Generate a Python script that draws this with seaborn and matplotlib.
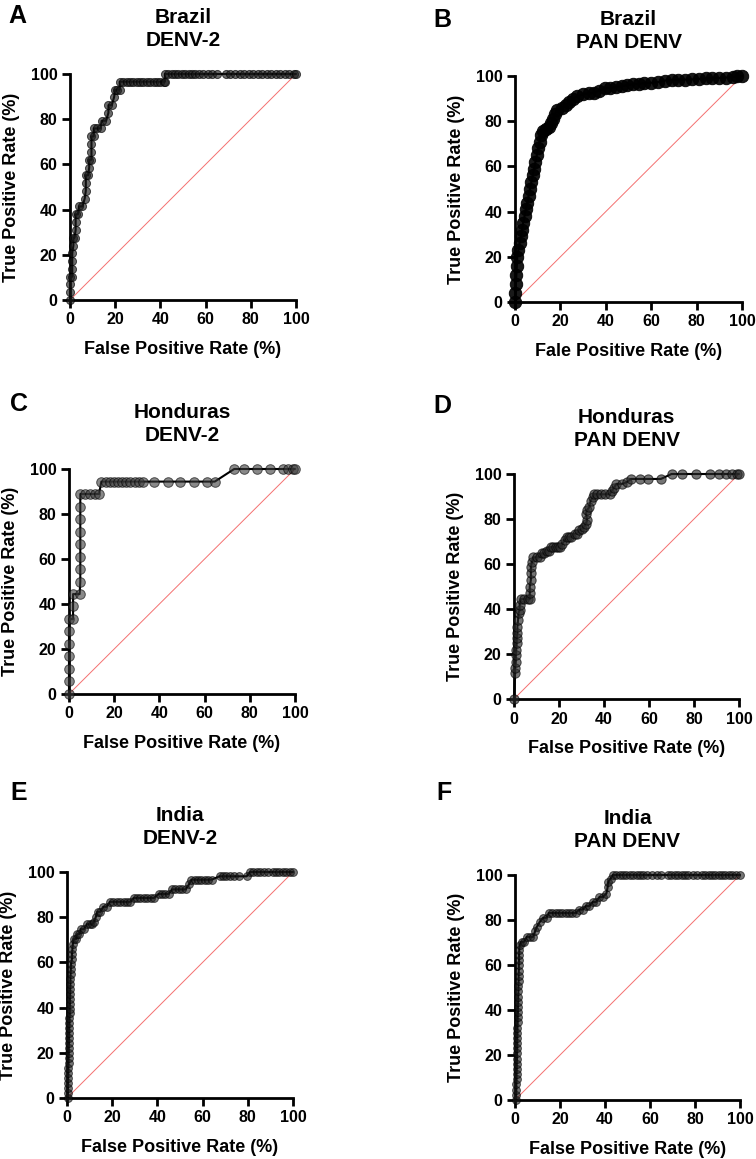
import matplotlib
matplotlib.use("Agg")
import matplotlib.pyplot as plt
import seaborn as sns
import pandas as pd

sns.set_theme(style="ticks")
plt.rcParams["font.family"] = ["Liberation Sans", "DejaVu Sans"]
plt.rcParams["font.weight"] = "bold"
plt.rcParams["text.color"] = "black"
plt.rcParams["axes.labelcolor"] = "black"

# ROC points: (false positive rate %, true positive rate %)
brazil_denv2 = [(0, 0), (0, 3.4), (0, 6.9), (0, 10.3), (1, 10.3), (1, 13.8), (1, 17.2), (1, 20.7),
                (1.5, 24.1), (1.5, 27.6), (2, 27.6), (2.5, 31), (2.5, 34.5), (2.5, 37.9), (3.5, 37.9),
                (4, 41.4), (5.5, 41.4), (6.5, 44.8), (7, 48.3), (7, 51.7), (7, 55.2), (8, 55.2),
                (8.5, 58.6), (8.5, 62.1), (9.5, 62.1), (9.5, 65.5), (9.5, 69), (9.5, 72.4), (10.5, 72.4),
                (10.5, 75.9), (12, 75.9), (13.5, 75.9), (14, 79.3), (16, 79.3), (17, 82.8), (17, 86.2),
                (18.5, 86.2), (19.5, 89.7), (20, 93.1), (21, 93.1), (22, 93.1), (22, 96.6), (23.5, 96.6),
                (25, 96.6), (26.5, 96.6), (28, 96.6), (29.5, 96.6), (31, 96.6), (32.5, 96.6), (34, 96.6),
                (35.5, 96.6), (37, 96.6), (38.5, 96.6), (40, 96.6), (41.5, 96.6), (42, 96.6), (42, 100),
                (43.5, 100), (45, 100), (46.5, 100), (48, 100), (49.5, 100), (51, 100), (52.5, 100),
                (54, 100), (55.5, 100), (57, 100), (59, 100), (61, 100), (63, 100), (65, 100), (69, 100),
                (71, 100), (73, 100), (75, 100), (77, 100), (79, 100), (81, 100), (83, 100), (85, 100),
                (87, 100), (89, 100), (91, 100), (93, 100), (95, 100), (97, 100), (99, 100), (100, 100)]

brazil_pan = [(0, 0), (0.2, 4), (0.4, 8), (0.6, 12), (0.8, 16), (1, 20), (1.5, 23), (2, 26), (2.6, 29),
              (3.1, 32), (3.6, 35), (4.2, 38), (4.8, 41), (5.4, 44), (6, 47), (6.6, 50), (7.2, 53),
              (7.8, 56), (8.4, 59), (9, 62), (9.6, 65), (10.2, 68), (10.8, 71), (11.5, 74), (12.4, 75.5),
              (13.5, 76.5), (15, 77.5), (16, 79), (16.8, 81), (17.5, 83), (18.5, 85), (20.5, 86),
              (22.5, 87), (24, 88.5), (25.5, 90), (27.5, 91), (30, 92), (32.5, 92.3), (35, 92.5),
              (37, 93.5), (39.5, 94.5), (42, 94.8), (44.5, 95.1), (47, 95.5), (49.5, 96), (52, 96.3),
              (54.5, 96.6), (57, 96.8), (60, 97), (63, 97.3), (66, 98), (69, 98.2), (72, 98.3),
              (75, 98.4), (78, 98.5), (81, 98.7), (84, 98.9), (87, 99), (90, 99.1), (93, 99.3),
              (96, 99.6), (98, 99.8), (100, 100)]

honduras_denv2 = [(0, 0), (0, 5.6), (0, 11.1), (0, 16.7), (0, 22.2), (0, 27.8), (0, 33.3), (1.8, 33.3),
                  (1.8, 38.9), (1.8, 44.4), (4.7, 44.4), (5, 50), (5, 55.6), (5, 61.1), (5, 66.7),
                  (5, 72.2), (5, 77.8), (5, 83.3), (5, 88.9), (6.9, 88.9), (9.1, 88.9), (11.4, 88.9),
                  (13.3, 88.9), (14.3, 94.4), (16.2, 94.4), (18, 94.4), (19.8, 94.4), (21.6, 94.4),
                  (23.5, 94.4), (25.3, 94.4), (27.1, 94.4), (29, 94.4), (30.8, 94.4), (32.6, 94.4),
                  (37.7, 94.4), (43.9, 94.4), (49, 94.4), (55.4, 94.4), (60.9, 94.4), (64.5, 94.4),
                  (73.1, 100), (77.5, 100), (83, 100), (88.9, 100), (94.5, 100), (97, 100), (99, 100),
                  (100, 100)]

honduras_pan = [(0, 0), (0.5, 11.4), (0.5, 13.6), (0.8, 16.6), (0.8, 19.6), (1, 21.8), (1.2, 24.7),
                (1.2, 27), (1.5, 29.2), (1.5, 32.1), (1.8, 35.1), (2, 38.1), (2.5, 39.6), (2.5, 42),
                (3, 44.4), (4.5, 44.4), (6, 44.4), (7, 44.4), (7, 47), (7, 50), (7.5, 52.9), (7.5, 55.9),
                (7.5, 58.8), (8, 61), (8.5, 63), (10, 63), (11.5, 63), (12.5, 64.7), (13.5, 64.7),
                (14.5, 66), (15.5, 66), (16.5, 67.6), (17.5, 67.6), (18.5, 67.6), (19.5, 67.6),
                (20.5, 67.6), (21.5, 69), (22.5, 70.6), (23.5, 72), (24.5, 72), (25.5, 72), (27, 73.5),
                (28, 73.5), (29, 75), (30, 75.5), (31, 76.5), (32, 78), (32.5, 79.4), (32, 82.4),
                (32.5, 84), (33.5, 85.3), (34, 88), (35, 89.7), (35.5, 91), (37, 91), (38.5, 91),
                (40.5, 91), (42.5, 91), (43.5, 92.6), (44.5, 94), (45.5, 95.6), (48, 95.6), (50, 96.3),
                (52, 97.8), (56, 97.8), (59.6, 97.8), (65.3, 97.8), (70, 100), (74.5, 100), (81, 100),
                (87, 100), (91, 100), (94, 100), (97, 100), (99, 100), (100, 100)]

india_denv2 = [(0.3, 0), (0.3, 2.2), (0.4, 4.4), (0.5, 6.6), (0.5, 8.8), (0.6, 11), (0.6, 13.2),
               (0.7, 15.4), (0.7, 17.6), (0.8, 19.8), (0.8, 22), (0.9, 24.2), (0.9, 26.4), (1, 28.6),
               (1, 30.8), (1.1, 33), (1.1, 35.2), (1.2, 37.4), (1.2, 39.6), (1.3, 41.8), (1.3, 44),
               (1.4, 46.2), (1.4, 48.4), (1.5, 50.6), (1.5, 52.8), (1.6, 55), (1.7, 57.2), (1.8, 59.4),
               (2.2, 61.6), (2.2, 63.8), (2.4, 66), (2.6, 68.2), (3, 70.3), (4, 70.3), (4.5, 72.5),
               (5.5, 72.5), (6, 74.7), (7.5, 74.7), (8.8, 76.9), (10, 76.9), (11.2, 76.9), (12, 78),
               (12.8, 80.2), (13.5, 82.4), (14.8, 82.4), (16, 84.6), (17.5, 84.6), (19, 86.8),
               (20.5, 86.8), (22, 86.8), (23.5, 86.8), (25, 86.8), (26.5, 86.8), (28, 86.8),
               (29.5, 88.5), (31, 88.5), (32.5, 88.5), (34, 88.5), (35.5, 88.5), (37, 88.5),
               (38.5, 88.5), (40.5, 90.3), (42, 90.3), (43.5, 90.3), (45, 90.3), (46.5, 92.3),
               (48, 92.3), (49.5, 92.3), (51, 92.3), (52.5, 92.3), (54, 94.5), (55, 96.6), (56.5, 96.6),
               (58, 96.6), (59.5, 96.6), (61, 96.6), (62.5, 96.6), (64, 96.6), (67.5, 98.1), (69, 98.1),
               (70.5, 98.1), (72, 98.1), (74, 98.1), (76, 98.1), (79.5, 98.1), (81, 100), (82.5, 100),
               (84, 100), (85.5, 100), (87, 100), (89, 100), (91, 100), (92.5, 100), (94, 100),
               (95.5, 100), (97, 100), (98.5, 100), (100, 100)]

india_pan = [(0.5, 0), (0.5, 2.3), (0.6, 4.6), (0.6, 6.9), (0.7, 9.2), (0.7, 11.5), (0.8, 13.8),
             (0.8, 16.1), (0.9, 18.4), (0.9, 20.7), (1, 23), (1, 25.3), (1, 27.6), (1.1, 29.9),
             (1.1, 32.2), (1.2, 34.5), (1.2, 36.8), (1.3, 39.1), (1.3, 41.4), (1.4, 43.7), (1.4, 46),
             (1.5, 48.3), (1.5, 50.6), (1.6, 52.9), (1.6, 55.2), (1.7, 57.5), (1.7, 59.8), (1.8, 62.1),
             (1.8, 64.4), (1.9, 66.7), (2, 69), (3, 70.3), (4, 70.3), (5.2, 72.5), (6.5, 72.5),
             (8, 72.5), (9, 75.1), (9.7, 76.9), (11, 79.1), (12.5, 81), (14, 81), (15, 83.1),
             (16.5, 83.1), (18, 83.1), (19.5, 83.1), (21, 83.1), (22.5, 83.1), (24, 83.1), (25.5, 83.1),
             (27, 83.1), (28.5, 84.6), (30, 84.6), (31.5, 86.2), (33, 86.2), (34.5, 88), (36, 88),
             (37.5, 90.2), (39, 90.2), (40.6, 91.7), (41.2, 94.7), (41.4, 96.9), (42.5, 98.4),
             (43.5, 100), (45, 100), (46.5, 100), (48, 100), (49.5, 100), (51, 100), (52.5, 100),
             (54, 100), (55.5, 100), (57, 100), (58.5, 100), (61, 100), (63, 100), (65, 100),
             (68, 100), (69.5, 100), (71, 100), (72.5, 100), (74, 100), (75.5, 100), (77, 100),
             (79, 100), (81, 100), (83, 100), (84.5, 100), (86, 100), (87.5, 100), (89, 100),
             (90.5, 100), (92, 100), (93.5, 100), (95, 100), (96.5, 100), (98, 100), (100, 100)]

letters = ["A", "B", "C", "D", "E", "F"]
titles = ["Brazil\nDENV-2", "Brazil\nPAN DENV", "Honduras\nDENV-2",
          "Honduras\nPAN DENV", "India\nDENV-2", "India\nPAN DENV"]
xlabels = ["False Positive Rate (%)", "Fale Positive Rate (%)", "False Positive Rate (%)",
           "False Positive Rate (%)", "False Positive Rate (%)", "False Positive Rate (%)"]
ylabel = "True Positive Rate (%)"
ticks = [0, 20, 40, 60, 80, 100]
curves = [brazil_denv2, brazil_pan, honduras_denv2, honduras_pan, india_denv2, india_pan]

# axes boxes in pixels (left, top, right, bottom) on a 756x1159 canvas
W, H = 756, 1159
boxes = [(70, 74, 296, 300), (515, 76, 742, 302), (69, 469, 295, 694),
         (514, 474, 739, 699), (67, 872, 293, 1098), (515, 875, 740, 1100)]
letter_pos = [(8, 4), (433, 8), (10, 392), (433, 394), (10, 781), (436, 781)]
# marker size, face colour, alpha per panel
marker_s = [34, 80, 48, 45, 32, 32]
marker_c = ["#1a1a1a", "#000000", "#3a3a3a", "#2a2a2a", "#1a1a1a", "#1a1a1a"]
marker_a = [0.65, 0.9, 0.6, 0.65, 0.6, 0.6]

fig = plt.figure(figsize=(W / 100, H / 100), dpi=100)

for i, pts in enumerate(curves):
    l, t, r, b = boxes[i]
    ax = fig.add_axes([l / W, 1 - b / H, (r - l) / W, (b - t) / H])
    df = pd.DataFrame(pts, columns=["fpr", "tpr"])

    # chance line
    ax.plot([0, 100], [0, 100], color="#f47070", lw=0.7, zorder=1)
    sns.lineplot(data=df, x="fpr", y="tpr", sort=False, estimator=None, color="black",
                 lw=1.5, ax=ax, zorder=2, clip_on=False)
    sns.scatterplot(data=df, x="fpr", y="tpr", s=marker_s[i], color=marker_c[i], alpha=marker_a[i],
                    edgecolor="black", linewidth=0.7, ax=ax, zorder=3, clip_on=False)

    ax.set_xlim(0, 100)
    ax.set_ylim(0, 100)
    ax.set_xticks(ticks)
    ax.set_yticks(ticks)
    sns.despine(ax=ax)
    for side in ["left", "bottom"]:
        ax.spines[side].set_linewidth(2)
        ax.spines[side].set_color("black")
    ax.tick_params(direction="out", length=6, width=2, colors="black", labelsize=11.5, pad=3)
    for lab in ax.get_xticklabels() + ax.get_yticklabels():
        lab.set_fontweight("bold")
    ax.set_xlabel(xlabels[i], fontsize=13, fontweight="bold", labelpad=10)
    ax.set_ylabel(ylabel, fontsize=13, fontweight="bold", labelpad=8)
    ax.set_title(titles[i], fontsize=15, fontweight="bold", pad=20, linespacing=1.3)

    lx, ly = letter_pos[i]
    fig.text(lx / W, 1 - ly / H, letters[i], fontsize=18, fontweight="bold", va="top", ha="left")

fig.savefig("out.png", dpi=100)
